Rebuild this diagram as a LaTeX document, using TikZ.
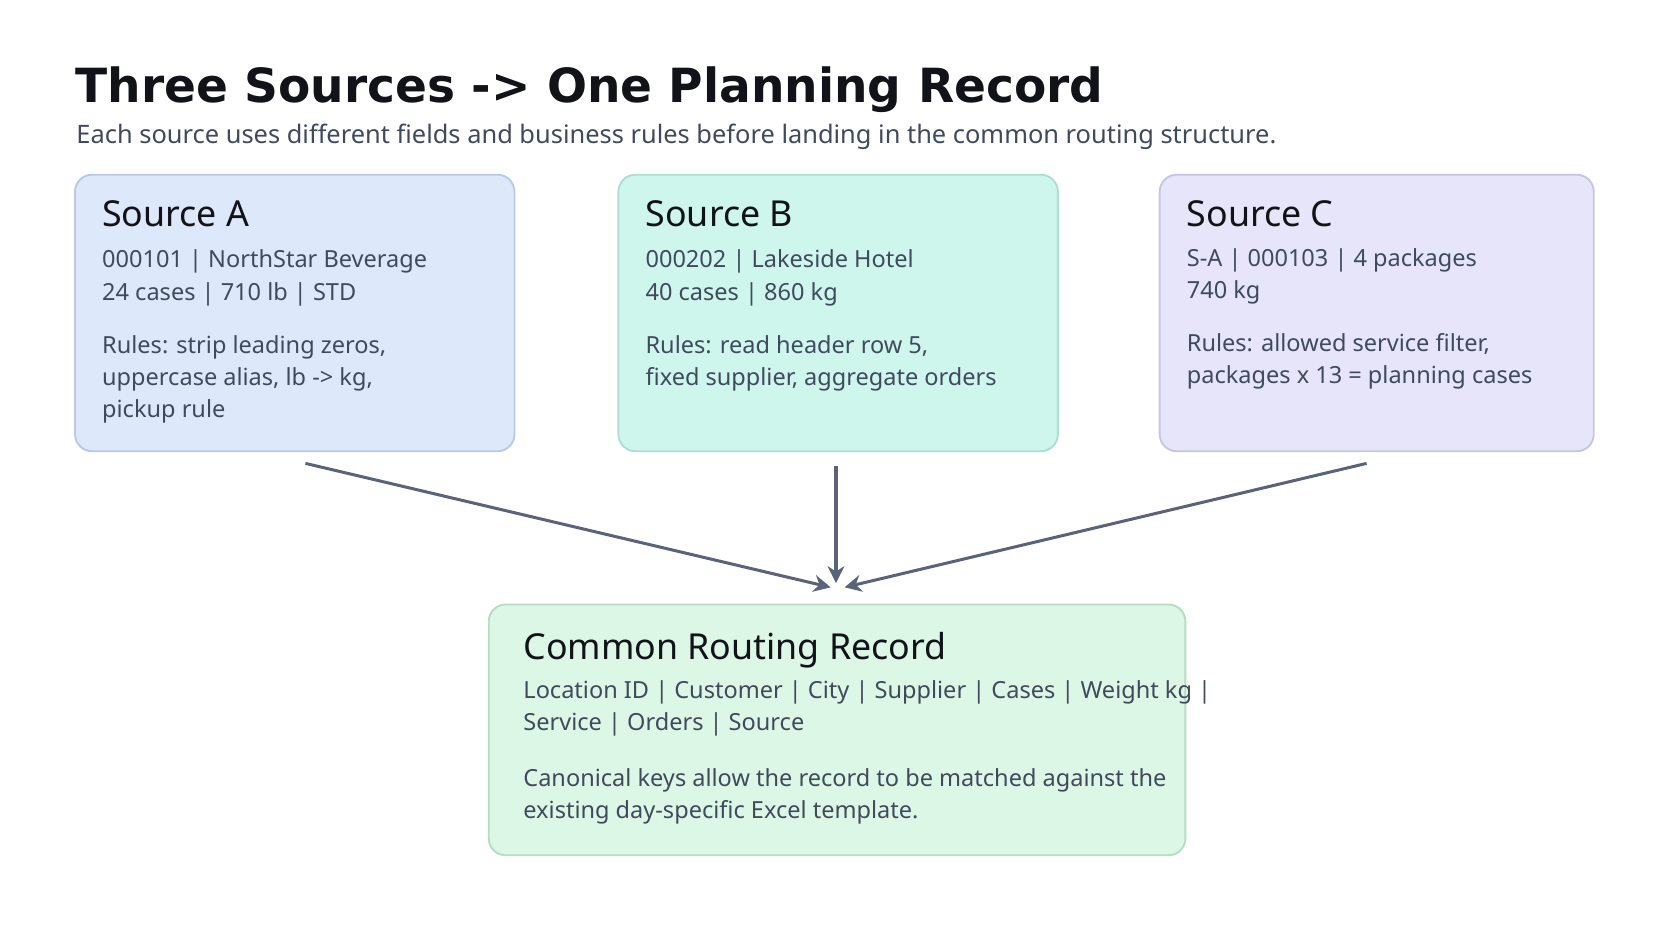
\documentclass[tikz,border=0pt]{standalone}
\usepackage{fontspec}
\setmainfont{Noto Sans}
\newfontfamily\headfont{DejaVu Sans}
\usetikzlibrary{positioning,arrows.meta}
\definecolor{inkdark}{HTML}{111318}
\definecolor{inkbody}{HTML}{3F4A5C}
\definecolor{arrowgrey}{HTML}{5A6478}
\definecolor{fillA}{HTML}{DDE8FB}
\definecolor{lineA}{HTML}{B9C9E6}
\definecolor{fillB}{HTML}{CFF6EC}
\definecolor{lineB}{HTML}{AEDDD2}
\definecolor{fillC}{HTML}{E7E5FA}
\definecolor{lineC}{HTML}{C6C6E2}
\definecolor{fillR}{HTML}{DCF7E5}
\definecolor{lineR}{HTML}{B4DDC4}
\tikzset{
  srcbox/.style={draw, line width=1pt, rounded corners=9pt, inner sep=0pt},
  boxtitle/.style={anchor=base west, inner sep=0pt, text=inkdark, font=\fontsize{19}{22}\selectfont\bfseries},
  boxtext/.style={anchor=north west, inner sep=0pt, text=inkbody, align=left,
    font=\fontsize{12.5}{17}\selectfont},
  flow/.style={draw=arrowgrey, line width=1.6pt, -{Stealth[length=9pt,width=9pt]}}
}
\begin{document}
\begin{tikzpicture}[x=0.02cm, y=-0.02cm]
  \useasboundingbox (0,0) rectangle (1560,878);
  % heading
  \node[anchor=base west, inner sep=0pt, text=inkdark, font=\headfont\fontsize{25}{30}\selectfont\bfseries] (head) at (70,96) {Three Sources -> One Planning Record};
  \node[anchor=base west, inner sep=0pt, text=inkbody, font=\fontsize{13.5}{16}\selectfont] (sub) at (71,134) {Each source uses different fields and business rules before landing in the common routing structure.};
  % source boxes
  \path (70,163) coordinate (a1) (480,421) coordinate (a2);
  \draw[srcbox, fill=fillA, draw=lineA] (a1) rectangle (a2);
  \node (A) at (275,292) [minimum width=410*0.02cm, minimum height=258*0.02cm] {};
  \node[boxtitle] (At) at (95,211) {Source A};
  \node[boxtext] (Ab) at (95,233) {000101 | NorthStar Beverage\\24 cases | 710 lb | STD};
  \node[boxtext] (Ar) at (95,313) {Rules: strip leading zeros,\\uppercase alias, lb -> kg,\\pickup rule};
  \path (577,163) coordinate (b1) (987,421) coordinate (b2);
  \draw[srcbox, fill=fillB, draw=lineB] (b1) rectangle (b2);
  \node (B) at (782,292) [minimum width=410*0.02cm, minimum height=258*0.02cm] {};
  \node[boxtitle] (Bt) at (602,211) {Source B};
  \node[boxtext] (Bb) at (602,233) {000202 | Lakeside Hotel\\40 cases | 860 kg};
  \node[boxtext] (Br) at (602,313) {Rules: read header row 5,\\fixed supplier, aggregate orders};
  \path (1082,163) coordinate (c1) (1487,421) coordinate (c2);
  \draw[srcbox, fill=fillC, draw=lineC] (c1) rectangle (c2);
  \node (C) at (1284,292) [minimum width=405*0.02cm, minimum height=258*0.02cm] {};
  \node[boxtitle] (Ct) at (1107,211) {Source C};
  \node[boxtext] (Cb) at (1107,232) {S-A | 000103 | 4 packages\\740 kg};
  \node[boxtext] (Cr) at (1107,311) {Rules: allowed service filter,\\packages x 13 = planning cases};
  % common record
  \path (456,564) coordinate (r1) (1106,798) coordinate (r2);
  \draw[srcbox, fill=fillR, draw=lineR] (r1) rectangle (r2);
  \node (R) at (781,681) [minimum width=650*0.02cm, minimum height=234*0.02cm] {};
  \node[boxtitle] (Rt) at (488,615) {Common Routing Record};
  \node[boxtext] (Rb) at (488,635) {Location ID | Customer | City | Supplier | Cases | Weight kg |\\Service | Orders | Source};
  \node[boxtext] (Rr) at (488,717) {Canonical keys allow the record to be matched against the\\existing day-specific Excel template.};
  % connectors
  \coordinate (hubL) at (775,548);
  \coordinate (hubM) at (780,544);
  \coordinate (hubR) at (788,548);
  \draw[flow] ([xshift=10*0.02cm,yshift=-11*0.02cm]A.south) -- (hubL);
  \draw[flow] ([xshift=-2*0.02cm,yshift=-13*0.02cm]B.south) -- (hubM);
  \draw[flow] ([xshift=-9*0.02cm,yshift=-11*0.02cm]C.south) -- (hubR);
\end{tikzpicture}
\end{document}
